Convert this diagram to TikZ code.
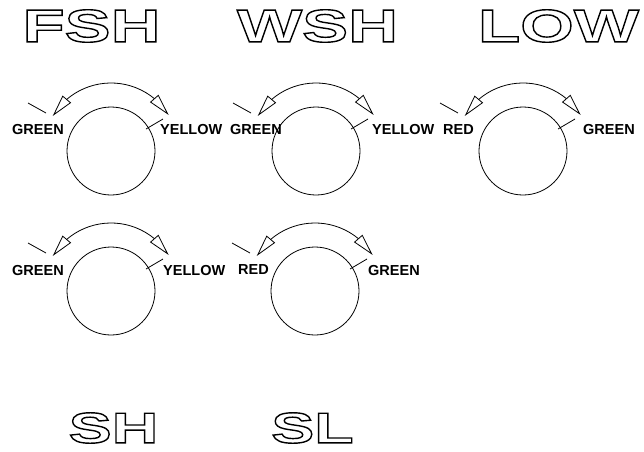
\documentclass[tikz,border=0pt]{standalone}
\usepackage{fontspec}
\setmainfont{Liberation Sans}
\newfontfamily\titlefont[FakeStretch=1.5]{Liberation Sans}
\usetikzlibrary{arrows.meta,bending}
\newcommand{\outlinetext}[1]{\special{pdf:literal direct 1 Tr 1.4 w}#1\special{pdf:literal direct 0 Tr}}
\tikzset{
  dial/.style={circle,draw,line width=0.8pt,minimum size=88pt,inner sep=0pt},
  lbl/.style={anchor=west,inner sep=0pt,font=\fontsize{14.5}{14.5}\selectfont\bfseries},
  ttl/.style={inner sep=0pt,font=\titlefont\fontsize{46}{46}\selectfont\bfseries},
  ttlsmall/.style={inner sep=0pt,font=\titlefont\fontsize{43}{43}\selectfont\bfseries},
  swing/.style={line width=0.8pt,{Triangle[open,length=22pt,width=11pt]}-{Triangle[open,length=22pt,width=11pt]}},
  tickline/.style={line width=0.8pt}
}
\newcommand{\mydial}[3]{%
  \node[dial] (#1) at (#2,#3) {};
  \draw[swing] ([shift={(149:68)}]#1.center) arc[start angle=149,end angle=32,radius=68];
  \draw[tickline] ([shift={(-83,48)}]#1.center) -- ([shift={(-65,38)}]#1.center);
  \draw[tickline] ([shift={(35,22)}]#1.center) -- ([shift={(52,32)}]#1.center);
}
\begin{document}
\begin{tikzpicture}[x=1pt,y=1pt]
\fill[white] (0,0) rectangle (644,-451);
\useasboundingbox (0,0) rectangle (644,-451);
% titles
\node[ttl] (fsh) at (91.5,-26) {\outlinetext{FSH}};
\node[ttl] (wsh) at (317.5,-26) {\outlinetext{WSH}};
\node[ttl] (low) at (558.5,-26) {\outlinetext{LOW}};
\node[ttlsmall] (sh) at (113.5,-428) {\outlinetext{SH}};
\node[ttlsmall] (sl) at (312.5,-428) {\outlinetext{SL}};
% dials
\mydial{d1}{111}{-151}
\mydial{d2}{316}{-151}
\mydial{d3}{523}{-151}
\mydial{d4}{111}{-291}
\mydial{d5}{315}{-291}
% labels
\node[lbl] (d1a) at (12,-130) {GREEN};
\node[lbl] (d1b) at (160,-130) {YELLOW};
\node[lbl] (d2a) at (230,-130) {GREEN};
\node[lbl] (d2b) at (372,-130) {YELLOW};
\node[lbl] (d3a) at (443,-130) {RED};
\node[lbl] (d3b) at (583,-130) {GREEN};
\node[lbl] (d4a) at (12,-270) {GREEN};
\node[lbl] (d4b) at (163,-270) {YELLOW};
\node[lbl] (d5a) at (238,-270) {RED};
\node[lbl] (d5b) at (368,-270) {GREEN};
\end{tikzpicture}
\end{document}
